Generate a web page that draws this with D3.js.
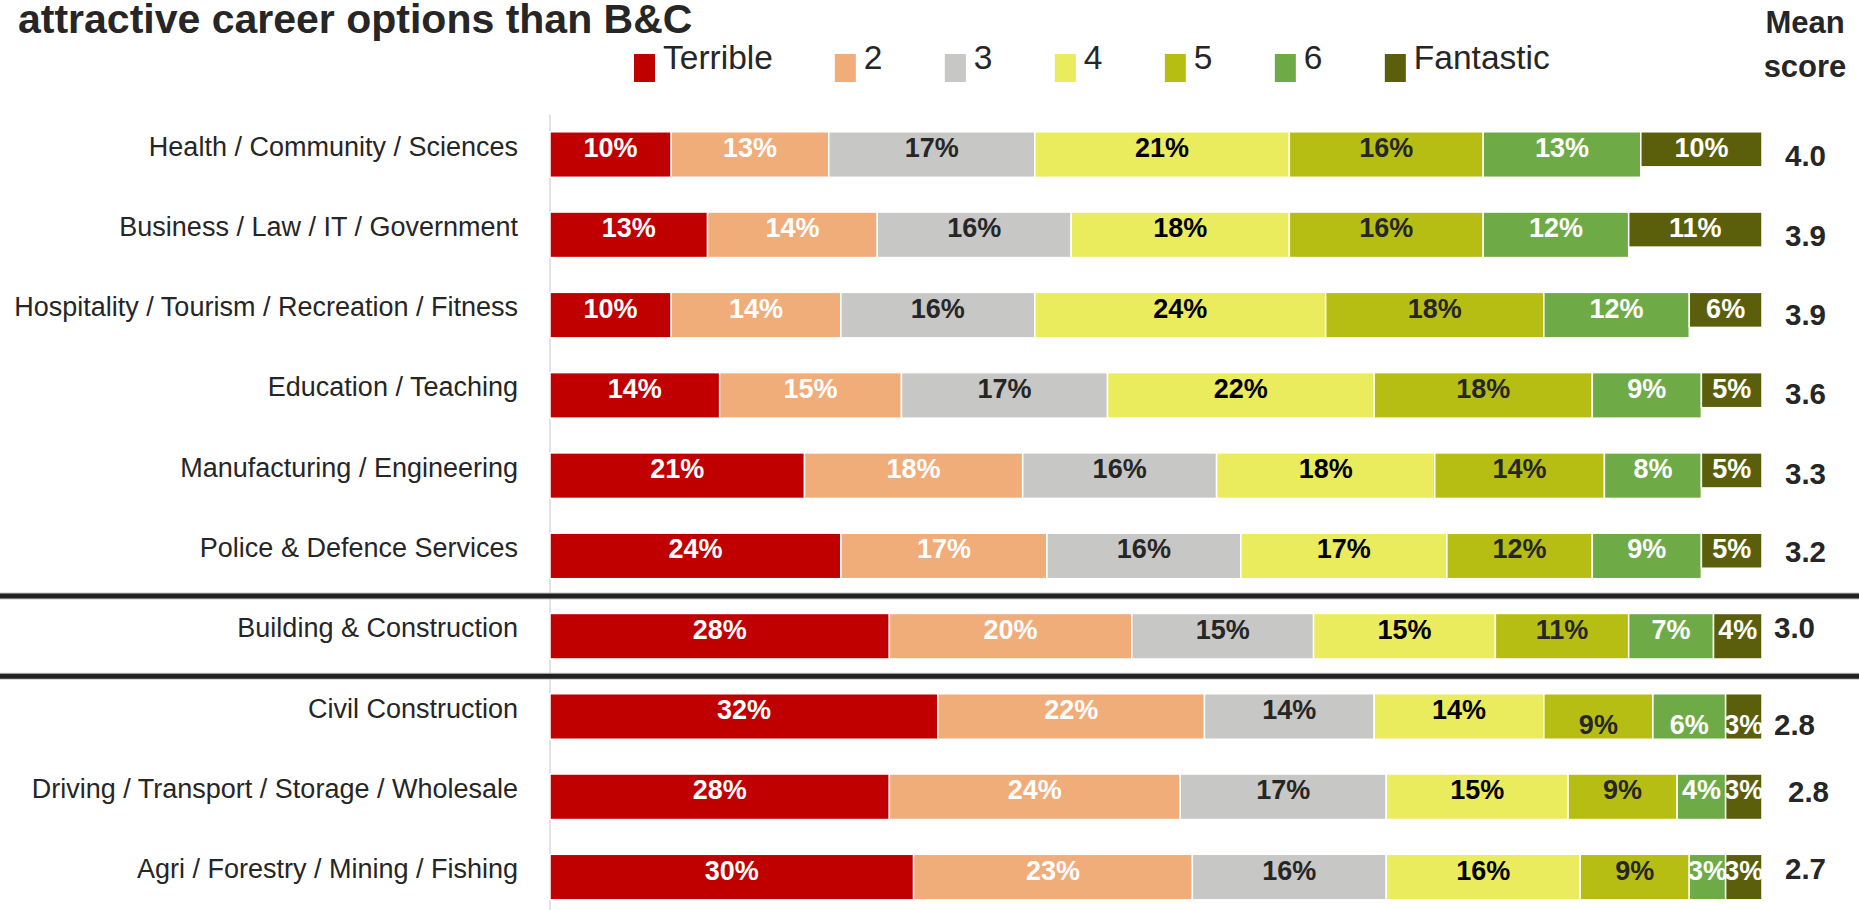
<!DOCTYPE html>
<html>
<head>
<meta charset="utf-8">
<script src="https://cdn.jsdelivr.net/npm/d3@7"></script>
<style>
  html, body { margin: 0; padding: 0; background: #ffffff; }
  svg { display: block; }
  text { font-family: "Liberation Sans", Arial, sans-serif; }
</style>
</head>
<body>
<svg id="chart" width="1859" height="910"></svg>
<script>
// Career sectors, in display order
const categories = [
  "Health / Community / Sciences",
  "Business / Law / IT / Government",
  "Hospitality / Tourism / Recreation / Fitness",
  "Education / Teaching",
  "Manufacturing / Engineering",
  "Police & Defence Services",
  "Building & Construction",
  "Civil Construction",
  "Driving / Transport / Storage / Wholesale",
  "Agri / Forestry / Mining / Fishing"
];

// Rating scale shown in the legend
const ratingLabels = ["Terrible", "2", "3", "4", "5", "6", "Fantastic"];

// Share of respondents (%) giving each rating, per sector
const terrible  = [10, 13, 10, 14, 21, 24, 28, 32, 28, 30];
const rating2   = [13, 14, 14, 15, 18, 17, 20, 22, 24, 23];
const rating3   = [17, 16, 16, 17, 16, 16, 15, 14, 17, 16];
const rating4   = [21, 18, 24, 22, 18, 17, 15, 14, 15, 16];
const rating5   = [16, 16, 18, 18, 14, 12, 11,  9,  9,  9];
const rating6   = [13, 12, 12,  9,  8,  9,  7,  6,  4,  3];
const fantastic = [10, 11,  6,  5,  5,  5,  4,  3,  3,  3];

// Mean score per sector
const meanScores = [4.0, 3.9, 3.9, 3.6, 3.3, 3.2, 3.0, 2.8, 2.8, 2.7];

const titleLine = "attractive career options than B&C";

// ---- styling -------------------------------------------------------------
const segColors  = ["#C00000", "#F0AD7A", "#C7C7C5", "#EAEC5E", "#B7BE13", "#6EAB47", "#5B5F0C"];
const labelColors = ["#FFFFFF", "#FFFFFF", "#262626", "#000000", "#262626", "#FFFFFF", "#FFFFFF"];
const ink = "#262626";

// hand-placed offsets of the mean-score text boxes
const meanOffset = {
  "Hospitality / Tourism / Recreation / Fitness": [0, -1],
  "Education / Teaching": [0, -2.5],
  "Manufacturing / Engineering": [0, -3],
  "Police & Defence Services": [0, -5],
  "Building & Construction": [-11, -9],
  "Civil Construction": [-11, 7.5],
  "Driving / Transport / Storage / Wholesale": [3, -6],
  "Agri / Forestry / Mining / Fishing": [0, -9.5]
};
// in this row the smaller right-hand segment labels sit lower in the bar
const loweredRow = "Civil Construction";
const loweredFrom = 4;

// ---- table built from the arrays -----------------------------------------
const series = [terrible, rating2, rating3, rating4, rating5, rating6, fantastic];
const keys = ratingLabels;
const rows = categories.map((c, i) => {
  const r = { category: c, mean: meanScores[i] };
  keys.forEach((k, j) => { r[k] = series[j][i]; });
  return r;
});
const stacked = d3.stack().keys(keys)(rows);

// ---- layout --------------------------------------------------------------
const svg = d3.select("#chart");
const W = 1859, H = 910;
const plotLeft = 550, plotRight = 1762;
const plotTop = 114.4, plotBottom = 917.2;

const x = d3.scaleLinear().domain([0, 100]).range([plotLeft, plotRight]);
const y = d3.scaleBand().domain(categories).range([plotTop, plotBottom])
  .paddingInner(0.433).paddingOuter(0.2165);
const color = d3.scaleOrdinal().domain(keys).range(segColors);
const labelColor = d3.scaleOrdinal().domain(keys).range(labelColors);
const step = y.step();
const bw = y.bandwidth();
const upperGroup = categories.slice(0, 6);

// title (second line of the slide heading)
svg.append("text")
  .attr("x", 18).attr("y", 33)
  .attr("font-size", 41).attr("font-weight", "bold")
  .attr("fill", ink)
  .text(titleLine);

// vertical category axis line
svg.append("line")
  .attr("x1", plotLeft).attr("x2", plotLeft)
  .attr("y1", plotTop).attr("y2", H)
  .attr("stroke", "#D9D9D9").attr("stroke-width", 1.5);

// stacked bar segments
const layer = svg.append("g").selectAll("g")
  .data(stacked).join("g")
  .attr("fill", d => color(d.key));

layer.selectAll("rect")
  .data(d => d.map(v => Object.assign(v, { key: d.key, idx: keys.indexOf(d.key) })))
  .join("rect")
  .attr("x", d => x(d[0]))
  .attr("y", d => y(d.data.category))
  .attr("width", d => x(d[1]) - x(d[0]))
  .attr("height", d => (d.key === "Fantastic" && upperGroup.includes(d.data.category)) ? bw * 0.77 : bw)
  .attr("stroke", "#FFFFFF").attr("stroke-width", 1.5);

// percentage labels
layer.selectAll("text")
  .data(d => d)
  .join("text")
  .attr("x", d => (x(d[0]) + x(d[1])) / 2)
  .attr("y", d => y(d.data.category) + bw / 2 + 2.5 +
        (d.data.category === loweredRow && d.idx >= loweredFrom ? 15 : 0))
  .attr("text-anchor", "middle")
  .attr("font-size", 27).attr("font-weight", "bold")
  .attr("fill", d => labelColor(d.key))
  .text(d => (d[1] - d[0]) + "%");

// category labels
svg.append("g").selectAll("text")
  .data(categories).join("text")
  .attr("x", 518)
  .attr("y", d => y(d) + bw / 2 + 1)
  .attr("text-anchor", "end")
  .attr("font-size", 27)
  .attr("fill", ink)
  .text(d => d);

// mean scores
svg.append("g").selectAll("text")
  .data(rows).join("text")
  .attr("x", d => 1785 + (meanOffset[d.category] ? meanOffset[d.category][0] : 0))
  .attr("y", d => y(d.category) + bw / 2 + 11 + (meanOffset[d.category] ? meanOffset[d.category][1] : 0))
  .attr("font-size", 29.5).attr("font-weight", "bold")
  .attr("fill", ink)
  .text(d => d.mean.toFixed(1));

// "Mean score" header
const header = svg.append("text")
  .attr("text-anchor", "middle")
  .attr("font-size", 31).attr("font-weight", "bold")
  .attr("fill", ink);
header.append("tspan").attr("x", 1805).attr("y", 33).text("Mean");
header.append("tspan").attr("x", 1805).attr("y", 77).text("score");

// group separators around the Building & Construction row
[upperGroup.length, upperGroup.length + 1].forEach(i => {
  const yy = plotTop + y.paddingOuter() * 0 + i * step;
  svg.append("line")
    .attr("x1", 0).attr("x2", W)
    .attr("y1", yy).attr("y2", yy)
    .attr("stroke", "#C8C8C8").attr("stroke-width", 7);
  svg.append("line")
    .attr("x1", 0).attr("x2", W)
    .attr("y1", yy).attr("y2", yy)
    .attr("stroke", "#222222").attr("stroke-width", 5);
});

// legend
const legend = svg.append("g");
let lx = 634;
keys.forEach((k, i) => {
  const g = legend.append("g").attr("transform", `translate(${lx},0)`);
  g.append("rect").attr("x", 0).attr("y", 54).attr("width", 21).attr("height", 28)
    .attr("fill", color(k));
  const t = g.append("text").attr("x", 29).attr("y", 69)
    .attr("font-size", 33.5).attr("fill", ink).text(k);
  const tw = t.node().getComputedTextLength();
  lx += Math.max(110, 29 + tw + 62);
});
</script>
</body>
</html>
